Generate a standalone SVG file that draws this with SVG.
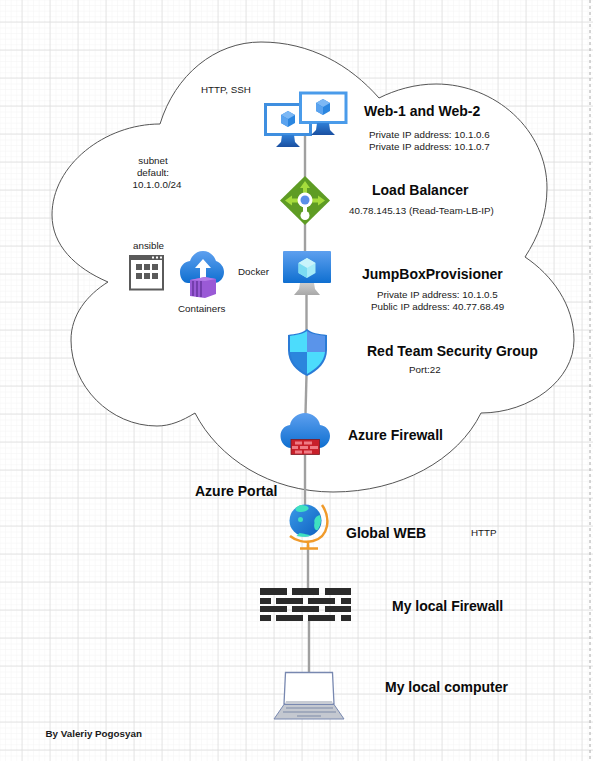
<svg xmlns="http://www.w3.org/2000/svg" width="593" height="761" viewBox="0 0 593 761">
<style>
text{font-family:"Liberation Sans",Arial,sans-serif;fill:#1a1a1a}
.s{font-size:9.8px}
.b{font-size:14px;font-weight:bold;fill:#0a0a0a}
.link{stroke:#a0a0a0;stroke-width:2.400;fill:none}
</style>
<defs>
<pattern id="minor" width="5.6" height="5.6" patternUnits="userSpaceOnUse" x="-0.5" y="-0.5"><path d="M5.6 0H0V5.6" fill="none" stroke="#f3f3f3" stroke-width="1"/></pattern>
<pattern id="major" width="28" height="28" patternUnits="userSpaceOnUse" x="21.5" y="21.5"><path d="M28 0H0V28" fill="none" stroke="#dcdcdc" stroke-width="1.4"/></pattern>
<linearGradient id="blue" x1="0" y1="0" x2="0" y2="1"><stop offset="0" stop-color="#5ea0ef"/><stop offset="1" stop-color="#0f6fd0"/></linearGradient>
<linearGradient id="dark" x1="0" y1="0" x2="0" y2="1"><stop offset="0" stop-color="#2f7fd6"/><stop offset="1" stop-color="#1a4fa0"/></linearGradient>
<linearGradient id="grey" x1="0" y1="0" x2="0" y2="1"><stop offset="0" stop-color="#ccc"/><stop offset="1" stop-color="#a8a8a8"/></linearGradient>
<linearGradient id="globe" x1="0" y1="0" x2="1" y2="1"><stop offset="0" stop-color="#3c9be8"/><stop offset="1" stop-color="#0c5fc0"/></linearGradient>
<g id="cube"><path d="M0-8 7-4V4L0 8-7 4V-4Z" fill="#2b86e0"/><path d="M0-8 7-4 0 0-7-4Z" fill="#7cb8f5"/><path d="M-7-4 0 0V8L-7 4Z" fill="#5aa3ef"/></g>
</defs>
<rect width="593" height="761" fill="#fff"/>
<rect width="593" height="761" fill="url(#minor)"/>
<rect width="593" height="761" fill="url(#major)"/>
<path d="M590 0V761" stroke="#aaa" stroke-width="1" stroke-dasharray="3 3" fill="none"/>
<g id="cloud"><path d="M160 124C175 75 215 42 261 42C310 42 350 65 379 98C395 90 415 84 436 84C495 84 547 130 547 188C547 215 538 237 525 257C552 275 574 305 574 340C574 380 530 413 481 413C458 460 400 492 333 492C270 492 218 458 195 413C182 421 170 426 157 426C110 426 71 386 71 340C71 315 87 295 108 282C75 268 52 245 52 215C52 165 105 124 160 124Z" fill="#fff" stroke="#555" stroke-width="1"/></g>
<g id="connectors">
<path class="link" d="M305 135V178M305 222V252"/>
<path class="link" d="M306.500 294V330"/>
<path class="link" d="M306.500 375 305.500 414"/>
<path class="link" d="M305 455V506"/>
<path class="link" d="M308 545V589"/>
<path class="link" d="M309 621V672"/>
</g>
<g id="web1">
<rect x="265.500" y="104.500" width="45" height="30" fill="#fff" stroke="#3f8fe0" stroke-width="3"/>
<path d="M282 135H294L295 142 300 147H276L281 142Z" fill="url(#dark)"/>
<use href="#cube" x="288" y="119"/>
</g>
<g id="web2">
<rect x="300.500" y="93" width="45.500" height="29.500" fill="#fff" stroke="#4a9bea" stroke-width="3"/>
<path d="M317 123H329L330 130 335 135H311L316 130Z" fill="url(#dark)"/>
<use href="#cube" x="323" y="107"/>
</g>
<g id="lb">
<path d="M305 176 330 200.500 305 225 280 200.500Z" fill="#5e9c24"/>
<path d="M305 181 310 188H307V197H303V188H300ZM285 200.500 292 195.500V198.500H300V202.500H292V205.500ZM325 200.500 318 195.500V198.500H310V202.500H318V205.500Z" fill="#a5dc3c"/>
<circle cx="305" cy="200" r="7.500" fill="#fff"/><rect x="303" y="205" width="4" height="8" fill="#fff"/><circle cx="305" cy="215.500" r="4.500" fill="#fff"/>
<circle cx="305" cy="200" r="4.500" fill="#5b8fe8"/>
</g>
<g id="jumpbox">
<rect x="283" y="251" width="48" height="32" rx="1" fill="url(#blue)"/>
<path d="M300 283H314L315 289 320 295H294L299 289Z" fill="url(#grey)"/>
<path d="M307 258 315.500 263V273L307 278 298.500 273V263Z" fill="#a6ecf8"/><path d="M307 258 315.500 263 307 268 298.500 263Z" fill="#c9f4fb"/><path d="M307 268V278L298.500 273V263Z" fill="#7bdcf2"/>
</g>
<g id="ansible">
<rect x="130" y="256" width="33" height="33.500" fill="#fff" stroke="#5a5a5a" stroke-width="2"/>
<rect x="130" y="255" width="33" height="5" fill="#5a5a5a"/>
<path d="M152 256.500h2v2h-2zM156 256.500h2v2h-2zM160 256.500h2v2h-2z" fill="#fff"/>
<path d="M136 264h6v6h-6zM144 264h6v6h-6zM152 264h6v6h-6zM136 273h6v6h-6zM144 273h6v6h-6zM152 273h6v6h-6z" fill="#5a5a5a"/>
</g>
<g id="containers">
<path d="M188 283C183 283 180 278 180 272C180 266 184 262 190 261C192 255 197 251 203 251C209 251 214 255 216 261C221 263 224 267 224 272C224 278 220 283 214 283Z" fill="url(#blue)"/>
<path d="M203 259 211 268H206V279H200V268H195Z" fill="#fff"/>
<path d="M190 280 205 277 216 279V294L205 298 190 296Z" fill="#9a5ad6"/>
<path d="M190 280 205 277 216 279 205 281Z" fill="#b57ce8"/>
<path d="M193 281V296M197 281V297M201 281V297" stroke="#5c2d91" stroke-width="1.200"/>
</g>
<g id="nsg">
<path d="M307 329C311 333 319 334 327 335V350C327 362 318 371 307 376C296 371 288 362 288 350V335C295 334 303 333 307 329Z" fill="#2a7bd6"/>
<path d="M307 331C311 334 319 335 325 336V352H307Z" fill="#5a94ea"/>
<path d="M307 331V352H290V336C296 335 303 334 307 331Z" fill="#4cdcfc"/>
<path d="M307 352H325C324 362 316 369 307 374Z" fill="#4cdcfc"/>
<path d="M307 352H290C291 362 298 369 307 374Z" fill="#2b85dd"/>
</g>
<g id="azfw">
<path d="M291 448C285 448 280.500 442 280.500 436C280.500 430 284 426 290 425C291 418 298 413 305 413C312 413 319 418 320 425C326 426 330 430 330 436C330 442 325 448 319 448Z" fill="url(#blue)"/>
<rect x="291" y="439.500" width="28.500" height="15" fill="#c8202a" stroke="#7a1a22" stroke-width="0.800"/>
<path d="M295 441.500h7v3h-7zM304 441.500h8v3h-8zM292 446h6v3h-6zM300 446h8v3h-8zM310 446h8v3h-8zM295 450.500h7v3h-7zM304 450.500h8v3h-8z" fill="#ef7b84"/>
</g>
<g id="globe1">
<path d="M322 505C331 518 329 537 313 541C305 543 296 541 290 536" fill="none" stroke="#f09a2a" stroke-width="2.500"/>
<path d="M300 548.500H318M308 542V548" stroke="#f09a2a" stroke-width="2.500" fill="none"/>
<circle cx="305.500" cy="520.500" r="16" fill="url(#globe)"/>
<path d="M300.500 505C304.500 505 309.500 506 308.500 509C306.500 512 299.500 513 296.500 511C293.500 509 297.500 506 300.500 505ZM319.500 515C322.500 520 320.500 526 317.500 530C314.500 531 313.500 526 314.500 523 313.500 519 316.500 516 319.500 515ZM299.500 533C303.500 534 308.500 534 310.500 536C306.500 537 299.500 537 296.500 536ZM300.500 517a2.500 2.500 0 1 1 0 5 2.500 2.500 0 1 1 0-5Z" fill="#3fe0c0"/>
</g>
<g id="localfw" fill="#2b2b2b">
<path d="M260 588h27v7h-27zM292 588h27v7h-27zM325 588h26v7h-26z"/>
<path d="M260 598h11v6h-11zM276 598h27v6h-27zM308 598h27v6h-27zM341 598h10v6h-10z"/>
<path d="M260 606h27v6h-27zM292 606h27v6h-27zM325 606h26v6h-26z"/>
<path d="M260 615h11v6h-11zM276 615h27v6h-27zM308 615h27v6h-27zM341 615h10v6h-10z"/>
</g>
<g id="laptop">
<path d="M285.500 672.500H332.500L334 704H284Z" fill="#fff" stroke="#7888b0" stroke-width="1.300"/>
<path d="M286 701H332L333 704H285Z" fill="#c8ccd4"/>
<path d="M284 704.500H334L344 719H274Z" fill="#c4c8d0" stroke="#7888b0" stroke-width="1"/>
<path d="M286 708H333M283 712H336M297 716H321" stroke="#7d8aa8" stroke-width="1" fill="none"/>
</g>
<g id="labels">
<text class="s" x="201" y="93">HTTP, SSH</text>
<text class="b" x="364" y="116">Web-1 and Web-2</text>
<text class="s" x="369" y="138">Private IP address: 10.1.0.6</text>
<text class="s" x="369" y="150">Private IP address: 10.1.0.7</text>
<text class="s" x="153" y="164" text-anchor="middle">subnet</text>
<text class="s" x="153" y="176" text-anchor="middle">default:</text>
<text class="s" x="157" y="188" text-anchor="middle">10.1.0.0/24</text>
<text class="b" x="372" y="195">Load Balancer</text>
<text class="s" x="349" y="214">40.78.145.13 (Read-Team-LB-IP)</text>
<text class="s" x="133" y="249">ansible</text>
<text class="s" x="238" y="275">Docker</text>
<text class="b" x="362" y="279">JumpBoxProvisioner</text>
<text class="s" x="377" y="298">Private IP address: 10.1.0.5</text>
<text class="s" x="371" y="310">Public IP address: 40.77.68.49</text>
<text class="s" x="178" y="312">Containers</text>
<text class="b" x="367" y="356">Red Team Security Group</text>
<text class="s" x="409" y="373">Port:22</text>
<text class="b" x="348" y="440">Azure Firewall</text>
<text class="b" x="195" y="496">Azure Portal</text>
<text class="b" x="346" y="538">Global WEB</text>
<text class="s" x="471" y="536">HTTP</text>
<text class="b" x="392" y="611">My local Firewall</text>
<text class="b" x="385" y="692">My local computer</text>
<text x="45.500" y="737" font-size="9.800" font-weight="bold">By Valeriy Pogosyan</text>
</g>
</svg>
